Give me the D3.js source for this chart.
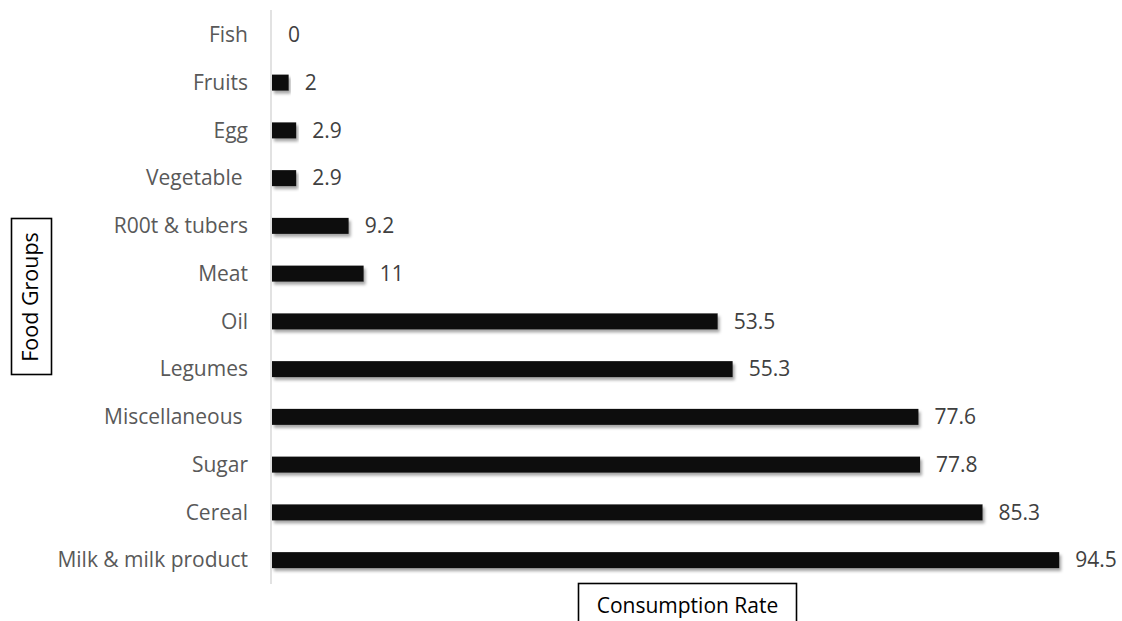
<!DOCTYPE html>
<html>
<head>
<meta charset="utf-8">
<script src="https://cdn.jsdelivr.net/npm/d3@7"></script>
<style>
  html, body { margin: 0; padding: 0; background: #fff; }
  svg { display: block; font-family: "Open Sans", sans-serif; }
  text { white-space: pre; }
</style>
</head>
<body>
<svg id="chart" width="1122" height="621"></svg>
<script>
// Food groups, top to bottom, and their consumption rates
const categories = ["Fish", "Fruits", "Egg", "Vegetable ", "R00t & tubers", "Meat", "Oil",
  "Legumes", "Miscellaneous ", "Sugar", "Cereal", "Milk & milk product"];
const values = [0, 2, 2.9, 2.9, 9.2, 11, 53.5, 55.3, 77.6, 77.8, 85.3, 94.5];
const valueLabels = ["0", "2", "2.9", "2.9", "9.2", "11", "53.5", "55.3", "77.6", "77.8", "85.3", "94.5"];
const xTitle = "Consumption Rate";
const yTitle = "Food Groups";

const svg = d3.select("#chart");
const rows = categories.map((c, i) => ({ cat: c, v: values[i], label: valueLabels[i] }));

const x = d3.scaleLinear().domain([0, 100]).range([272, 1105]);
const y = d3.scaleBand().domain(categories).range([11, 584]).paddingInner(0.665).paddingOuter(0.3325);

// soft drop shadow under each bar
const defs = svg.append("defs");
const f = defs.append("filter").attr("id", "shadow")
  .attr("x", "-5%").attr("y", "-50%").attr("width", "115%").attr("height", "220%");
f.append("feDropShadow").attr("dx", 2).attr("dy", 3).attr("stdDeviation", 1.4)
  .attr("flood-color", "#000").attr("flood-opacity", 0.35);

// vertical category axis line
svg.append("line")
  .attr("x1", 271).attr("x2", 271).attr("y1", 10).attr("y2", 584)
  .attr("stroke", "#d9d9d9").attr("stroke-width", 1.5);

// category labels
svg.append("g").selectAll("text").data(rows).join("text")
  .attr("x", 248)
  .attr("y", d => y(d.cat) + y.bandwidth() / 2)
  .attr("dy", "0.35em")
  .attr("text-anchor", "end")
  .attr("font-size", 21)
  .attr("fill", "#595959")
  .text(d => d.cat);

// bars
svg.append("g").selectAll("rect").data(rows.filter(d => d.v > 0)).join("rect")
  .attr("x", x(0))
  .attr("y", d => y(d.cat))
  .attr("width", d => x(d.v) - x(0))
  .attr("height", y.bandwidth())
  .attr("fill", "#0d0d0d")
  .attr("filter", "url(#shadow)");

// value labels
svg.append("g").selectAll("text").data(rows).join("text")
  .attr("x", d => x(d.v) + 16)
  .attr("y", d => y(d.cat) + y.bandwidth() / 2)
  .attr("dy", "0.35em")
  .attr("font-size", 21)
  .attr("fill", "#404040")
  .text(d => d.label);

// boxed y-axis title
svg.append("rect")
  .attr("x", 11.5).attr("y", 218.5).attr("width", 40).attr("height", 156)
  .attr("fill", "none").attr("stroke", "#000").attr("stroke-width", 1.6);
svg.append("text")
  .attr("transform", "translate(38,297) rotate(-90)")
  .attr("text-anchor", "middle")
  .attr("font-size", 21.5)
  .attr("fill", "#000")
  .text(yTitle);

// boxed x-axis title
svg.append("rect")
  .attr("x", 578.5).attr("y", 583.5).attr("width", 218).attr("height", 50)
  .attr("fill", "none").attr("stroke", "#000").attr("stroke-width", 1.6);
svg.append("text")
  .attr("x", 687.5).attr("y", 613)
  .attr("text-anchor", "middle")
  .attr("font-size", 21)
  .attr("fill", "#000")
  .text(xTitle);
</script>
</body>
</html>
